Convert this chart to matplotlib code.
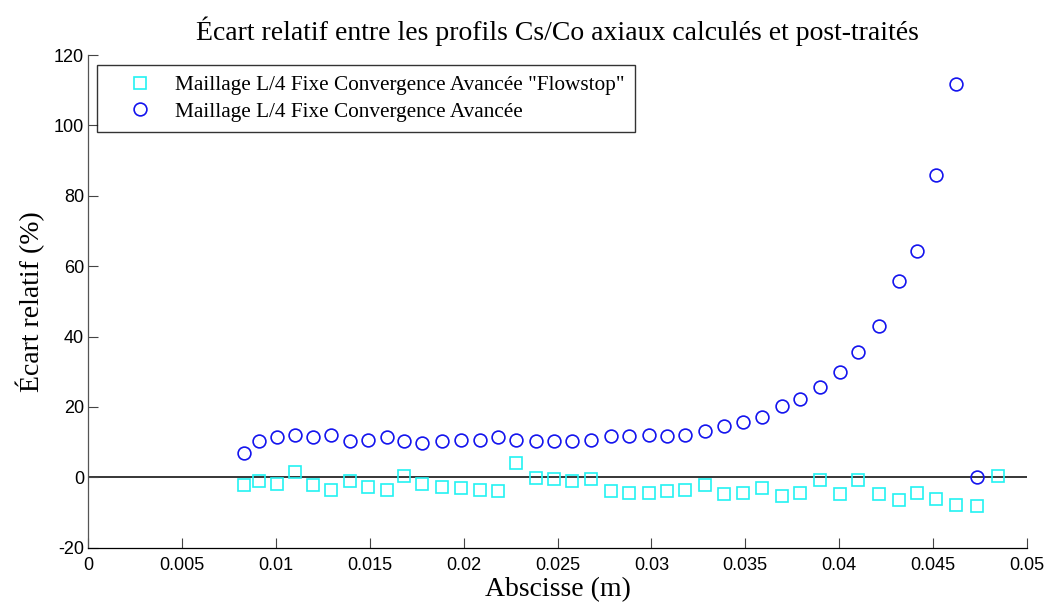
import matplotlib
matplotlib.use("Agg")
import matplotlib.pyplot as plt

plt.rcParams["axes.unicode_minus"] = False

# Data
x_positions = [0.00828, 0.00910, 0.01005, 0.01103, 0.01199, 0.01295, 0.01393, 0.01489,
               0.01593, 0.01682, 0.01780, 0.01885, 0.01987, 0.02085, 0.02181, 0.02279,
               0.02384, 0.02480, 0.02577, 0.02680, 0.02787, 0.02883, 0.02986, 0.03085,
               0.03181, 0.03286, 0.03389, 0.03487, 0.03591, 0.03696, 0.03794, 0.03899,
               0.04004, 0.04100, 0.04211, 0.04317, 0.04413, 0.04518, 0.04623, 0.04735,
               0.04849]

flowstop = [-2.3, -1.0, -1.8, 1.6, -2.3, -3.6, -1.0, -2.7, -3.6, 0.3, -1.9,
            -2.7, -3.1, -3.6, -4.0, 4.2, -0.2, -0.6, -1.0, -0.6, -4.0,
            -4.4, -4.4, -4.0, -3.5, -2.3, -4.8, -4.4, -3.1, -5.2, -4.4,
            -0.9, -4.8, -0.9, -4.8, -6.5, -4.4, -6.1, -7.8, -8.2, 0.3]

avancee = [6.8, 10.2, 11.5, 12.0, 11.5, 12.0, 10.2, 10.6, 11.5, 10.2, 9.7,
           10.2, 10.6, 10.6, 11.5, 10.6, 10.2, 10.2, 10.2, 10.6, 11.6,
           11.6, 12.0, 11.6, 12.0, 13.3, 14.6, 15.8, 17.2, 20.2, 22.3,
           25.6, 30.0, 35.5, 42.9, 55.8, 64.4, 85.9, 111.7, 0.0]

label_flowstop = 'Maillage L/4 Fixe Convergence Avancée "Flowstop"'
label_avancee = 'Maillage L/4 Fixe Convergence Avancée'
title = "Écart relatif entre les profils Cs/Co axiaux calculés et post-traités"
xlabel = "Abscisse (m)"
ylabel = "Écart relatif (%)"
xticks = [0, 0.005, 0.01, 0.015, 0.02, 0.025, 0.03, 0.035, 0.04, 0.045, 0.05]
xticklabels = ["0", "0.005", "0.01", "0.015", "0.02", "0.025", "0.03", "0.035", "0.04", "0.045", "0.05"]
yticks = [-20, 0, 20, 40, 60, 80, 100, 120]

serif = "Liberation Serif"
sans = "Liberation Sans"

fig = plt.figure(figsize=(10.45, 6.05), dpi=100)
ax = fig.add_axes([88.3 / 1045, (605 - 547.7) / 605, (1026.7 - 88.3) / 1045, (547.7 - 55) / 605])

ax.axhline(0, color="black", lw=1.1, zorder=1)
ax.plot(x_positions, flowstop, linestyle="none", marker="s", markersize=8.6,
        markerfacecolor="none", markeredgecolor="#22f2f2", markeredgewidth=1.2,
        label=label_flowstop, zorder=3)
ax.plot(x_positions[:len(avancee)], avancee, linestyle="none", marker="o", markersize=9.2,
        markerfacecolor="none", markeredgecolor="#1414ee", markeredgewidth=1.2,
        label=label_avancee, zorder=3)

ax.set_xlim(0, 0.05)
ax.set_ylim(-20, 120)
ax.set_xticks(xticks)
ax.set_xticklabels(xticklabels)
ax.set_yticks(yticks)
for lab in ax.get_xticklabels() + ax.get_yticklabels():
    lab.set_fontfamily(sans)
    lab.set_fontsize(13)
ax.tick_params(direction="in", length=7, width=0.8, color="#444444")
ax.tick_params(axis="x", pad=7)
ax.tick_params(axis="y", pad=3)

ax.spines["top"].set_visible(False)
ax.spines["right"].set_visible(False)
ax.spines["left"].set_color("#555555")
ax.spines["bottom"].set_color("black")
ax.spines["left"].set_linewidth(0.9)
ax.spines["bottom"].set_linewidth(0.9)

ax.set_title(title, fontfamily=serif, fontsize=20, pad=11)
ax.set_xlabel(xlabel, fontfamily=serif, fontsize=20, labelpad=2)
ax.set_ylabel(ylabel, fontfamily=serif, fontsize=20, labelpad=6)

leg = ax.legend(loc="upper left", bbox_to_anchor=(0.009, 0.98),
                prop={"family": serif, "size": 15.3}, frameon=True, fancybox=False,
                borderpad=0.5, handletextpad=0.1, handlelength=3.1, labelspacing=0.3,
                borderaxespad=0)
leg.get_frame().set_edgecolor("black")
leg.get_frame().set_linewidth(1.0)

fig.savefig("out.png", dpi=100)
